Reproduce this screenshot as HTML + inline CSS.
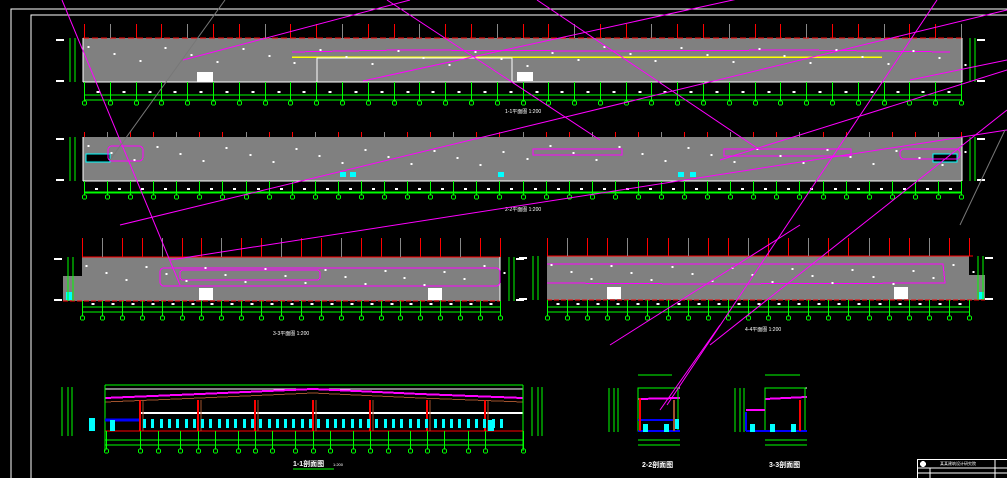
<!DOCTYPE html>
<html><head><meta charset="utf-8">
<style>
html,body{margin:0;padding:0;background:#000;width:1007px;height:478px;overflow:hidden}
svg{display:block}
text{font-family:"Liberation Sans","Noto Sans CJK SC",sans-serif;fill:#fff}
</style></head>
<body>
<svg id="s" width="1007" height="478" viewBox="0 0 1007 478" xmlns="http://www.w3.org/2000/svg" shape-rendering="crispEdges">
<rect width="1007" height="478" fill="#000"/>
<!-- frames -->
<polyline points="11,478 11,9 1007,9" fill="none" stroke="#fff" stroke-width="1"/>
<polyline points="31,478 31,15 1007,15" fill="none" stroke="#fff" stroke-width="1"/>

<!-- plan 1 -->
<rect x="83" y="38" width="879" height="44" fill="#808080"/>
<line x1="83" y1="38" x2="962" y2="38" stroke="#f00" stroke-dasharray="6,3"/>
<line x1="83" y1="82" x2="962" y2="82" stroke="#fff"/>
<line x1="83" y1="38" x2="83" y2="82" stroke="#fff"/>
<line x1="962" y1="38" x2="962" y2="82" stroke="#fff"/>
<line x1="292" y1="57" x2="882" y2="57" stroke="#ff0" stroke-width="1.5"/>
<polyline points="317,82 317,58 512,58 512,82" fill="none" stroke="#fff"/>
<rect x="197" y="72" width="16" height="10" fill="#fff"/>
<rect x="517" y="72" width="16" height="9" fill="#fff"/>
<polyline points="292,52 400,50 600,51 800,50 950,52" fill="none" stroke="#f0f"/>
<text x="505" y="113" font-size="5">1-1平面图 1:200</text>

<!-- plan 2 -->
<rect x="83" y="137" width="879" height="44" fill="#808080"/>
<line x1="83" y1="181" x2="962" y2="181" stroke="#fff"/>
<line x1="83" y1="137" x2="83" y2="181" stroke="#fff"/>
<line x1="962" y1="137" x2="962" y2="181" stroke="#fff"/>
<rect x="86" y="154" width="24" height="8" fill="#000" stroke="#0ff"/>
<rect x="933" y="154" width="24" height="8" fill="#000" stroke="#0ff"/>
<rect x="340" y="172" width="6" height="5" fill="#0ff"/><rect x="350" y="172" width="6" height="5" fill="#0ff"/>
<rect x="498" y="172" width="6" height="5" fill="#0ff"/><rect x="678" y="172" width="6" height="5" fill="#0ff"/><rect x="690" y="172" width="6" height="5" fill="#0ff"/>
<rect x="533" y="149" width="89" height="6" fill="none" stroke="#f0f"/>
<rect x="724" y="149" width="127" height="7" fill="none" stroke="#f0f"/>
<rect x="900" y="149" width="60" height="10" rx="4" fill="none" stroke="#f0f"/>
<rect x="108" y="146" width="35" height="15" rx="4" fill="none" stroke="#f0f"/>
<text x="505" y="211" font-size="5">2-2平面图 1:200</text>

<!-- plan 3 -->
<rect x="82" y="257" width="418" height="44" fill="#808080"/>
<rect x="63" y="276" width="20" height="25" fill="#808080"/>
<line x1="82" y1="257" x2="500" y2="257" stroke="#f00"/>
<line x1="63" y1="301" x2="500" y2="301" stroke="#f00" stroke-dasharray="5,2"/>
<line x1="500" y1="257" x2="500" y2="301" stroke="#fff"/>
<rect x="199" y="288" width="14" height="12" fill="#fff"/>
<rect x="428" y="288" width="14" height="12" fill="#fff"/>
<rect x="66" y="292" width="6" height="8" fill="#0ff"/>
<rect x="160" y="268" width="340" height="18" rx="4" fill="none" stroke="#f0f"/>
<rect x="180" y="270" width="140" height="10" rx="3" fill="none" stroke="#f0f"/>
<text x="273" y="335" font-size="5">3-3平面图 1:200</text>

<!-- plan 4 -->
<rect x="547" y="256" width="422" height="44" fill="#808080"/>
<rect x="969" y="275" width="16" height="25" fill="#808080"/>
<line x1="547" y1="256" x2="973" y2="256" stroke="#f00"/>
<line x1="547" y1="300" x2="985" y2="300" stroke="#f00" stroke-dasharray="5,2"/>
<rect x="607" y="287" width="14" height="12" fill="#fff"/>
<rect x="894" y="287" width="14" height="12" fill="#fff"/>
<rect x="979" y="292" width="5" height="7" fill="#0ff"/>
<polyline points="547,264 700,264 943,264 945,283 700,284 547,283" fill="none" stroke="#f0f"/>
<text x="745" y="331" font-size="5">4-4平面图 1:200</text>

<!-- section 1-1 -->
<line x1="105" y1="385" x2="523" y2="385" stroke="#0f0"/>
<line x1="105" y1="389" x2="523" y2="389" stroke="#fff"/>
<polyline points="105,398 200,394 313,389 420,394 523,398" fill="none" stroke="#f0f" stroke-width="2"/>
<polyline points="105,402 200,398 313,393 420,398 523,402" fill="none" stroke="#a0522d"/>
<line x1="140" y1="413" x2="523" y2="413" stroke="#fff" stroke-width="2"/>
<line x1="105" y1="431" x2="523" y2="431" stroke="#f00"/>
<line x1="105" y1="440" x2="523" y2="440" stroke="#0f0"/>
<line x1="105" y1="445" x2="523" y2="445" stroke="#0f0"/>
<line x1="105" y1="385" x2="105" y2="451" stroke="#0f0"/>
<line x1="523" y1="385" x2="523" y2="451" stroke="#0f0"/>
<line x1="105" y1="420" x2="140" y2="420" stroke="#00f" stroke-width="3"/>
<text x="293" y="466" font-size="7" font-weight="bold">1-1剖面图</text><text x="333" y="466" font-size="4">1:200</text>
<line x1="293" y1="469" x2="334" y2="469" stroke="#0f0"/>

<!-- section 2-2 -->
<g>
<line x1="638" y1="388" x2="680" y2="388" stroke="#fff"/>
<line x1="638" y1="399" x2="680" y2="398" stroke="#f0f" stroke-width="2"/>
<rect x="638" y="388" width="40" height="43" fill="none" stroke="#0f0"/>
<line x1="638" y1="431" x2="680" y2="431" stroke="#00f" stroke-width="2"/>
<line x1="638" y1="420" x2="676" y2="420" stroke="#00f" stroke-width="2"/>
<line x1="640" y1="398" x2="640" y2="431" stroke="#f00" stroke-width="2"/>
<line x1="674" y1="400" x2="674" y2="431" stroke="#a0522d" stroke-width="2"/>
<rect x="643" y="424" width="5" height="8" fill="#0ff"/><rect x="664" y="424" width="5" height="8" fill="#0ff"/><rect x="675" y="419" width="4" height="10" fill="#0ff"/>
<line x1="638" y1="440" x2="680" y2="440" stroke="#0f0"/><line x1="638" y1="445" x2="680" y2="445" stroke="#0f0"/>
<line x1="638" y1="375" x2="672" y2="375" stroke="#0f0"/>
<text x="642" y="467" font-size="7" font-weight="bold">2-2剖面图</text>
</g>
<g>
<line x1="765" y1="388" x2="807" y2="388" stroke="#fff"/>
<line x1="765" y1="399" x2="807" y2="397" stroke="#f0f" stroke-width="2"/>
<rect x="765" y="388" width="40" height="43" fill="none" stroke="#0f0"/>
<line x1="746" y1="431" x2="807" y2="431" stroke="#00f" stroke-width="2"/>
<line x1="746" y1="410" x2="765" y2="410" stroke="#f0f" stroke-width="2"/>
<line x1="746" y1="412" x2="746" y2="431" stroke="#00f" stroke-width="2"/>
<line x1="800" y1="400" x2="800" y2="431" stroke="#f00" stroke-width="2"/>
<rect x="770" y="424" width="5" height="8" fill="#0ff"/><rect x="791" y="424" width="5" height="8" fill="#0ff"/><rect x="750" y="424" width="5" height="8" fill="#0ff"/>
<line x1="765" y1="440" x2="807" y2="440" stroke="#0f0"/><line x1="765" y1="445" x2="807" y2="445" stroke="#0f0"/>
<line x1="765" y1="375" x2="800" y2="375" stroke="#0f0"/>
<text x="769" y="467" font-size="7" font-weight="bold">3-3剖面图</text>
</g>

<!-- title block -->
<rect x="917.5" y="459.5" width="90" height="19" fill="none" stroke="#fff"/>
<line x1="917" y1="468" x2="1007" y2="468" stroke="#fff"/>
<line x1="917" y1="473" x2="1007" y2="473" stroke="#fff"/>
<line x1="995" y1="459" x2="995" y2="478" stroke="#fff"/>
<line x1="930" y1="468" x2="930" y2="478" stroke="#fff"/>
<circle cx="923" cy="464" r="3" fill="#fff"/>
<text x="940" y="465" font-size="4">某某建筑设计研究院</text>

<g id="gen"></g>

<!-- magenta long lines -->
<g stroke="#f0f" stroke-width="1" fill="none" shape-rendering="auto">
<line x1="62" y1="0" x2="180" y2="285"/>
<line x1="183" y1="60" x2="410" y2="0"/>
<line x1="363" y1="81" x2="1007" y2="-60"/>
<line x1="120" y1="225" x2="1007" y2="10"/>
<line x1="387" y1="0" x2="600" y2="140"/>
<line x1="537" y1="0" x2="760" y2="150"/>
<line x1="937" y1="0" x2="667" y2="405"/>
<line x1="170" y1="260" x2="1007" y2="130"/>
<line x1="610" y1="345" x2="800" y2="225"/>
<line x1="710" y1="345" x2="1007" y2="110"/>
<line x1="660" y1="410" x2="720" y2="325"/>
<line x1="910" y1="80" x2="1007" y2="60"/>
<line x1="720" y1="160" x2="1007" y2="70"/>
</g>
<line x1="225" y1="0" x2="110" y2="160" stroke="#777" shape-rendering="auto"/>
<line x1="1005" y1="130" x2="960" y2="225" stroke="#777" shape-rendering="auto"/>
</svg>
<script>
var g=document.getElementById('gen');var ns='http://www.w3.org/2000/svg';
function el(t,a){var e=document.createElementNS(ns,t);for(var k in a)e.setAttribute(k,a[k]);g.appendChild(e);return e}
function plan(x0,x1,top,bot,tickTop,dim1,dim2,cy,n){
 var step=(x1-x0)/n;
 el('line',{x1:x0,y1:dim1,x2:x1,y2:dim1,stroke:'#0f0'});
 el('line',{x1:x0,y1:dim2,x2:x1,y2:dim2,stroke:'#0f0'});
 for(var i=0;i<=n;i++){var x=Math.round(x0+i*step)+.5;
  el('line',{x1:x,y1:tickTop,x2:x,y2:top,stroke:i%3==1?'#888':'#f00'});
  el('line',{x1:x,y1:bot,x2:x,y2:cy-2,stroke:'#0f0'});
  el('circle',{cx:x,cy:cy,r:2.2,fill:'none',stroke:'#0f0'});
  if(i<n){el('rect',{x:x+step/2-1,y:dim1-4,width:3,height:2,fill:'#fff'});}
  el('rect',{x:x+3,y:top+8+((i*7)%20),width:2,height:2,fill:'#fff'});
 }
 // left/right side dims
 [x0-14,x0-9,x1+9,x1+14].forEach(function(x){el('line',{x1:x,y1:top,x2:x,y2:bot,stroke:'#0f0'});});
 el('rect',{x:x0-28,y:top+1,width:8,height:2,fill:'#fff'});
 el('rect',{x:x0-28,y:bot-2,width:8,height:2,fill:'#fff'});
 el('rect',{x:x1+16,y:top+1,width:8,height:2,fill:'#fff'});
 el('rect',{x:x1+16,y:bot-2,width:8,height:2,fill:'#fff'});
}
plan(84,961,38,82,24,95,100,103,34);
plan(84,961,137,181,132,192,193,197,38);
plan(82,500,257,301,238,307,312,318,21);
plan(547,969,256,300,238,307,312,318,21);
// section 1-1 columns/windows/axes
var ax=[106,140,158,180,198,215,238,255,272,295,313,330,353,370,388,410,427,444,468,485,523];
ax.forEach(function(x){x+=.5;el('line',{x1:x,y1:431,x2:x,y2:449,stroke:'#0f0'});el('circle',{cx:x,cy:451,r:2.2,fill:'none',stroke:'#0f0'});});
[140,198,255,313,370,427,485].forEach(function(x){el('line',{x1:x,y1:400,x2:x,y2:431,stroke:'#f00',"stroke-width":2});el('line',{x1:x+3,y1:400,x2:x+3,y2:431,stroke:'#a0522d'});});
for(var x=143;x<505;x+=8.3){el('rect',{x:Math.round(x),y:419,width:3,height:9,fill:'#0ff'});}
el('rect',{x:89,y:418,width:6,height:13,fill:'#0ff'});el('rect',{x:110,y:420,width:5,height:11,fill:'#0ff'});el('rect',{x:488,y:420,width:6,height:11,fill:'#0ff'});
[62,68,72].forEach(function(x){el('line',{x1:x,y1:387,x2:x,y2:436,stroke:'#0f0'});});
[532,538,542].forEach(function(x){el('line',{x1:x,y1:387,x2:x,y2:436,stroke:'#0f0'});});
[609,614,618,735,740,744].forEach(function(x){el('line',{x1:x,y1:388,x2:x,y2:432,stroke:'#0f0'});});
</script>
</body></html>
